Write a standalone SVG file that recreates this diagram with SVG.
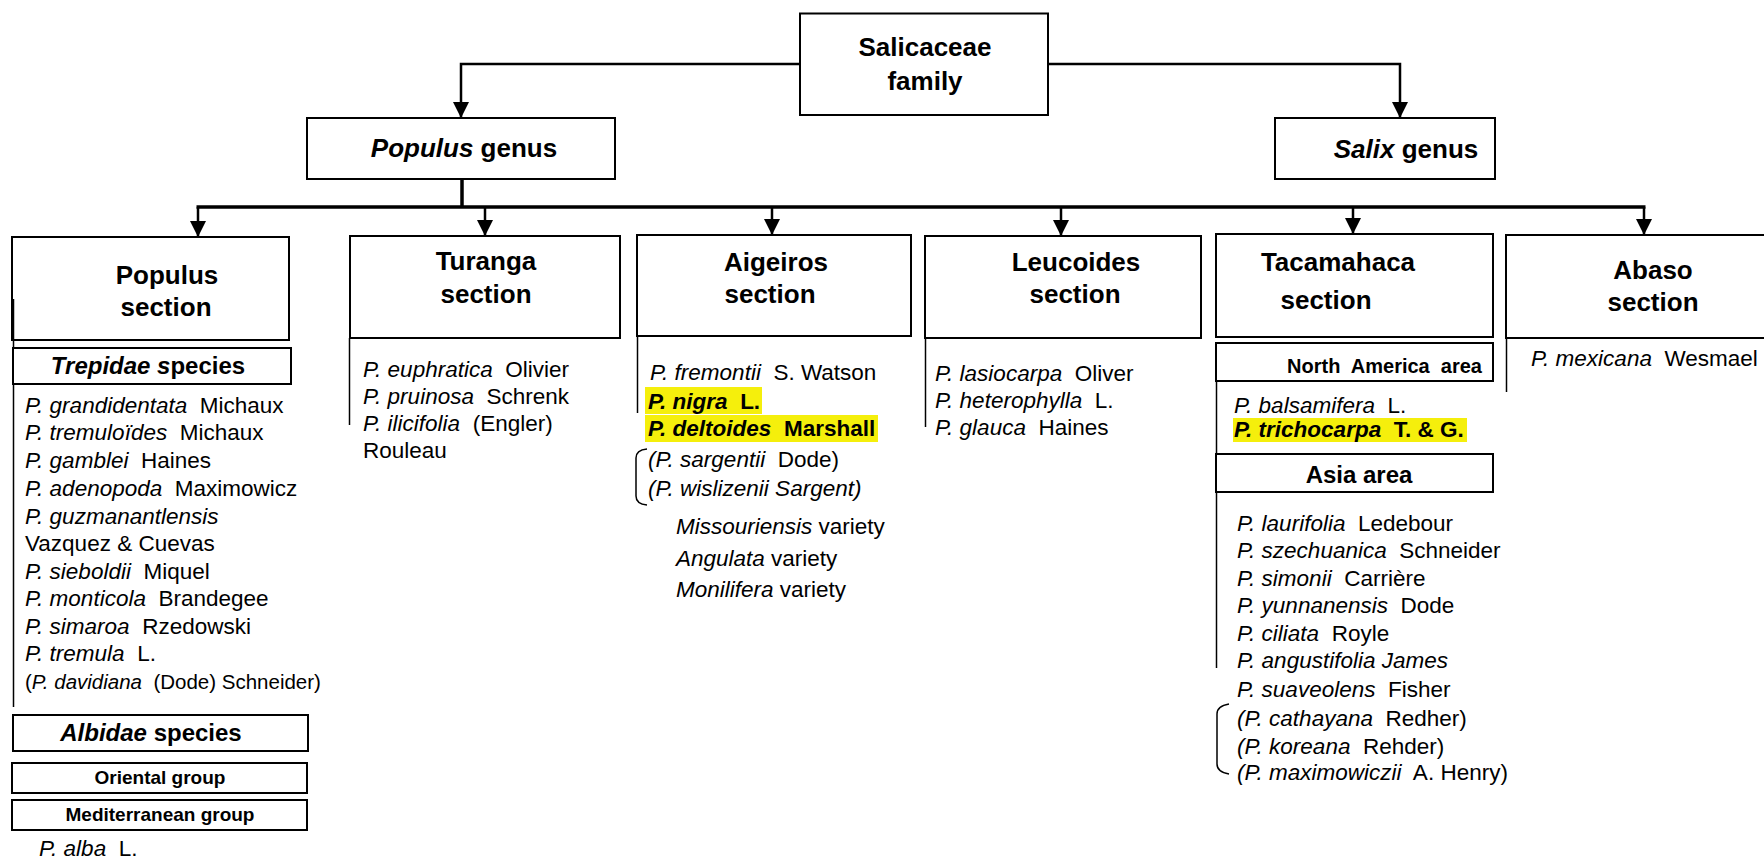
<svg xmlns="http://www.w3.org/2000/svg" width="1764" height="860" viewBox="0 0 1764 860">
<style>
.box{fill:#fff;stroke:#000;stroke-width:2}
.t{font-family:"Liberation Sans",Arial,sans-serif;fill:#000;white-space:pre}
.h{font-weight:bold;font-size:26px;text-anchor:middle}
.sec{font-weight:bold;font-size:26px;text-anchor:middle}
.sub{font-weight:bold;font-size:24px;text-anchor:middle}
.grp{font-weight:bold;font-size:19px;text-anchor:middle}
.sp{font-size:22.5px}
.sm{font-size:20.5px}
.i{font-style:italic}
.b{font-weight:bold}
.hl{fill:#f5ef0c}
.conn{fill:none;stroke:#000;stroke-width:2.5}
.bar{fill:none;stroke:#000;stroke-width:3.5}
.vl{fill:none;stroke:#000;stroke-width:1.5}
</style>
<defs>
<marker id="arr" viewBox="0 0 16 16" refX="16" refY="8" markerWidth="16" markerHeight="16" markerUnits="userSpaceOnUse" orient="auto">
<path d="M0,0 L16,8 L0,16 z" fill="#000"/>
</marker>
</defs>

<g id="connectors">
<path class="conn" d="M800,64 H461 V118" marker-end="url(#arr)"/>
<path class="conn" d="M1048,64 H1400 V118" marker-end="url(#arr)"/>
<path class="bar" d="M462,179 V207"/>
<path class="bar" d="M196.5,207 H1645.5"/>
<path class="conn" d="M198,207 V237" marker-end="url(#arr)"/>
<path class="conn" d="M485,207 V236" marker-end="url(#arr)"/>
<path class="conn" d="M772,207 V235" marker-end="url(#arr)"/>
<path class="conn" d="M1061,207 V236" marker-end="url(#arr)"/>
<path class="conn" d="M1353,207 V234" marker-end="url(#arr)"/>
<path class="conn" d="M1644,207 V235" marker-end="url(#arr)"/>
</g>

<g id="salicaceae">
<rect class="box" x="800" y="13.5" width="248" height="101.5"/>
<text class="t h" x="925" y="56">Salicaceae</text>
<text class="t h" x="925" y="90">family</text>
</g>

<g id="populus-genus">
<rect class="box" x="307" y="118" width="308" height="61"/>
<text class="t h" x="464" y="157"><tspan class="i">Populus</tspan> genus</text>
</g>

<g id="salix-genus">
<rect class="box" x="1275" y="118" width="220" height="61"/>
<text class="t h" x="1406" y="158"><tspan class="i">Salix</tspan> genus</text>
</g>

<g id="populus-section">
<rect class="box" x="12" y="237" width="277" height="103"/>
<text class="t sec" x="167" y="284">Populus</text>
<text class="t sec" x="166" y="316">section</text>
<line class="vl" x1="13.5" y1="299" x2="13.5" y2="707"/>
<rect class="box" x="13" y="348" width="278" height="36"/>
<text class="t sub" x="148" y="374"><tspan class="i">Trepidae s</tspan>pecies</text>
<text class="t sp" x="25" y="413"><tspan class="i">P. grandidentata</tspan>  Michaux</text>
<text class="t sp" x="25" y="440"><tspan class="i">P. tremuloïdes</tspan>  Michaux</text>
<text class="t sp" x="25" y="468"><tspan class="i">P. gamblei</tspan>  Haines</text>
<text class="t sp" x="25" y="496"><tspan class="i">P. adenopoda</tspan>  Maximowicz</text>
<text class="t sp" x="25" y="524"><tspan class="i">P. guzmanantlensis</tspan></text>
<text class="t sp" x="25" y="551">Vazquez &amp; Cuevas</text>
<text class="t sp" x="25" y="579"><tspan class="i">P. sieboldii</tspan>  Miquel</text>
<text class="t sp" x="25" y="606"><tspan class="i">P. monticola</tspan>  Brandegee</text>
<text class="t sp" x="25" y="634"><tspan class="i">P. simaroa</tspan>  Rzedowski</text>
<text class="t sp" x="25" y="661"><tspan class="i">P. tremula</tspan>  L.</text>
<text class="t sm" x="25" y="689">(<tspan class="i">P. davidiana</tspan>  (Dode) Schneider)</text>
<rect class="box" x="13" y="715" width="295" height="36"/>
<text class="t sub" x="151" y="741"><tspan class="i">Albidae</tspan> species</text>
<rect class="box" x="12" y="763" width="295" height="30"/>
<text class="t grp" x="160" y="784">Oriental group</text>
<rect class="box" x="12" y="800" width="295" height="30"/>
<text class="t grp" x="160" y="821">Mediterranean group</text>
<text class="t sp" x="39" y="856"><tspan class="i">P. alba</tspan>  L.</text>
</g>

<g id="turanga-section">
<rect class="box" x="350" y="236" width="270" height="102"/>
<text class="t sec" x="486" y="270">Turanga</text>
<text class="t sec" x="486" y="303">section</text>
<line class="vl" x1="349.5" y1="338" x2="349.5" y2="425"/>
<text class="t sp" x="363" y="377"><tspan class="i">P. euphratica</tspan>  Olivier</text>
<text class="t sp" x="363" y="404"><tspan class="i">P. pruinosa</tspan>  Schrenk</text>
<text class="t sp" x="363" y="431"><tspan class="i">P. ilicifolia</tspan>  (Engler)</text>
<text class="t sp" x="363" y="458">Rouleau</text>
</g>

<g id="aigeiros-section">
<rect class="box" x="637" y="235" width="274" height="101"/>
<text class="t sec" x="776" y="271">Aigeiros</text>
<text class="t sec" x="770" y="303">section</text>
<line class="vl" x1="637.5" y1="336" x2="637.5" y2="413"/>
<rect class="hl" x="645" y="387" width="117" height="27"/>
<rect class="hl" x="645" y="415" width="233" height="27"/>
<path class="vl" d="M647,449 Q636,450 636,458 V496 Q636,504 647,505"/>
<text class="t sp" x="650" y="380"><tspan class="i">P. fremontii</tspan>  S. Watson</text>
<text class="t sp b" x="648" y="409"><tspan class="i">P. nigra</tspan>  L.</text>
<text class="t sp b" x="648" y="436"><tspan class="i">P. deltoides</tspan>  Marshall</text>
<text class="t sp" x="648" y="467"><tspan class="i">(P. sargentii</tspan>  Dode)</text>
<text class="t sp i" x="648" y="496">(P. wislizenii Sargent)</text>
<text class="t sp" x="676" y="534"><tspan class="i">Missouriensis</tspan> variety</text>
<text class="t sp" x="676" y="566"><tspan class="i">Angulata</tspan> variety</text>
<text class="t sp" x="676" y="597"><tspan class="i">Monilifera</tspan> variety</text>
</g>

<g id="leucoides-section">
<rect class="box" x="925" y="236" width="276" height="102"/>
<text class="t sec" x="1076" y="271">Leucoides</text>
<text class="t sec" x="1075" y="303">section</text>
<line class="vl" x1="925.5" y1="338" x2="925.5" y2="427"/>
<text class="t sp" x="935" y="381"><tspan class="i">P. lasiocarpa</tspan>  Oliver</text>
<text class="t sp" x="935" y="408"><tspan class="i">P. heterophylla</tspan>  L.</text>
<text class="t sp" x="935" y="435"><tspan class="i">P. glauca</tspan>  Haines</text>
</g>

<g id="tacamahaca-section">
<rect class="box" x="1216" y="234" width="277" height="103"/>
<text class="t sec" x="1338" y="271">Tacamahaca</text>
<text class="t sec" x="1326" y="309">section</text>
<rect class="box" x="1216" y="343" width="277" height="38"/>
<text class="t b" x="1482" y="373" style="font-size:20px;text-anchor:end">North  America  area</text>
<line class="vl" x1="1216.5" y1="381" x2="1216.5" y2="454"/>
<rect class="hl" x="1233" y="418" width="234" height="24"/>
<text class="t sp" x="1234" y="413"><tspan class="i">P. balsamifera</tspan>  L.</text>
<text class="t sp b" x="1234" y="437"><tspan class="i">P. trichocarpa</tspan>  T. &amp; G.</text>
<rect class="box" x="1216" y="454" width="277" height="38"/>
<text class="t sub" x="1359" y="483">Asia area</text>
<line class="vl" x1="1216.5" y1="492" x2="1216.5" y2="668"/>
<path class="vl" d="M1229,704 Q1217,706 1217,714 V764 Q1217,772 1229,774"/>
<text class="t sp" x="1237" y="531"><tspan class="i">P. laurifolia</tspan>  Ledebour</text>
<text class="t sp" x="1237" y="558"><tspan class="i">P. szechuanica</tspan>  Schneider</text>
<text class="t sp" x="1237" y="586"><tspan class="i">P. simonii</tspan>  Carrière</text>
<text class="t sp" x="1237" y="613"><tspan class="i">P. yunnanensis</tspan>  Dode</text>
<text class="t sp" x="1237" y="641"><tspan class="i">P. ciliata</tspan>  Royle</text>
<text class="t sp i" x="1237" y="668">P. angustifolia James</text>
<text class="t sp" x="1237" y="697"><tspan class="i">P. suaveolens</tspan>  Fisher</text>
<text class="t sp" x="1237" y="726"><tspan class="i">(P. cathayana</tspan>  Redher)</text>
<text class="t sp" x="1237" y="754"><tspan class="i">(P. koreana</tspan>  Rehder)</text>
<text class="t sp" x="1237" y="780"><tspan class="i">(P. maximowiczii</tspan>  A. Henry)</text>
</g>

<g id="abaso-section">
<rect class="box" x="1506" y="235" width="270" height="103"/>
<text class="t sec" x="1653" y="279">Abaso</text>
<text class="t sec" x="1653" y="311">section</text>
<line class="vl" x1="1506.5" y1="338" x2="1506.5" y2="392"/>
<text class="t sp" x="1531" y="366"><tspan class="i">P. mexicana</tspan>  Wesmael</text>
</g>
</svg>
